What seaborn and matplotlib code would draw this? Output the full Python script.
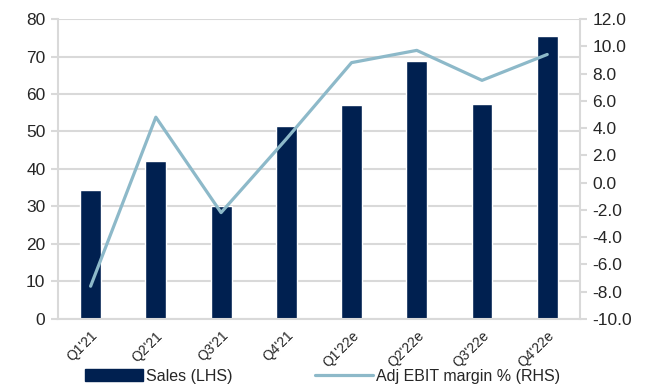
import numpy as np
import pandas as pd
import matplotlib
matplotlib.use("Agg")
import matplotlib.pyplot as plt
import seaborn as sns
from matplotlib.patches import Patch
from matplotlib.lines import Line2D

quarters = ["Q1'21", "Q2'21", "Q3'21", "Q4'21", "Q1'22e", "Q2'22e", "Q3'22e", "Q4'22e"]
sales = [34.3, 42.1, 30.0, 51.4, 57.0, 68.7, 57.3, 75.4]
ebit_margin = [-7.6, 4.8, -2.2, 3.2, 8.8, 9.7, 7.5, 9.4]
left_ticks = [0, 10, 20, 30, 40, 50, 60, 70, 80]
right_ticks = [-10, -8, -6, -4, -2, 0, 2, 4, 6, 8, 10, 12]

sns.set_style("white")
plt.rcParams['font.family'] = ['Liberation Sans', 'DejaVu Sans']

navy = "#002050"
lineblue = "#8db9c9"
grid = "#d9d9d9"

df = pd.DataFrame({"quarter": quarters, "sales": sales, "margin": ebit_margin,
                   "pos": np.arange(len(quarters))})

fig = plt.figure(figsize=(6.53, 3.88), dpi=100)
ax = fig.add_axes([0.0888, 0.178, 0.888 - 0.0888, 0.951 - 0.178])

sns.barplot(data=df, x="quarter", y="sales", color=navy, width=0.32, ax=ax,
            saturation=1, zorder=2)
ax.set_ylim(0, 80)
ax.set_yticks(left_ticks)
ax.set_yticklabels([str(t) for t in left_ticks], fontsize=12.5)
ax.set_xlim(-0.5, len(quarters) - 0.5)
ax.set_xlabel("")
ax.set_ylabel("")
ax.yaxis.grid(True, color=grid, linewidth=1.5, zorder=0)
ax.set_axisbelow(True)
ax.set_xticks(np.arange(len(quarters)))
ax.set_xticklabels(quarters, rotation=45, ha="right", rotation_mode="anchor", fontsize=10)
ax.tick_params(axis="x", which="major", length=0, pad=7)
ax.set_xticks(np.arange(-0.5, len(quarters)), minor=True)
ax.tick_params(axis="x", which="minor", length=5, color=grid, width=1.5)
ax.tick_params(axis="y", length=5, color=grid, width=1.5, pad=4)
for s in ["top", "right"]:
    ax.spines[s].set_visible(False)
for s in ["left", "bottom"]:
    ax.spines[s].set_color(grid)
    ax.spines[s].set_linewidth(1.5)

ax2 = ax.twinx()
sns.lineplot(data=df, x="pos", y="margin", color=lineblue, linewidth=2.3, ax=ax2, zorder=3)
ax2.set_ylim(-10, 12)
ax2.set_yticks(right_ticks)
ax2.set_yticklabels([f"{t:.1f}" for t in right_ticks], fontsize=12.5)
ax2.set_xlim(-0.5, len(quarters) - 0.5)
ax2.set_xlabel("")
ax2.set_ylabel("")
ax2.tick_params(axis="y", length=5, color=grid, width=1.5, pad=4)
for s in ["top", "left", "bottom"]:
    ax2.spines[s].set_visible(False)
ax2.spines["right"].set_color(grid)
ax2.spines["right"].set_linewidth(1.5)

handles = [Patch(facecolor=navy, edgecolor=navy),
           Line2D([0], [0], color=lineblue, linewidth=2.3)]
labels = ["Sales (LHS)", "Adj EBIT margin % (RHS)"]
fig.legend(handles, labels, loc="center", bbox_to_anchor=(0.494, 0.03), ncol=2,
           frameon=False, fontsize=11.5, handlelength=3.6, handleheight=0.8,
           columnspacing=5.2, handletextpad=0.2)

fig.savefig("out.png", dpi=100)
